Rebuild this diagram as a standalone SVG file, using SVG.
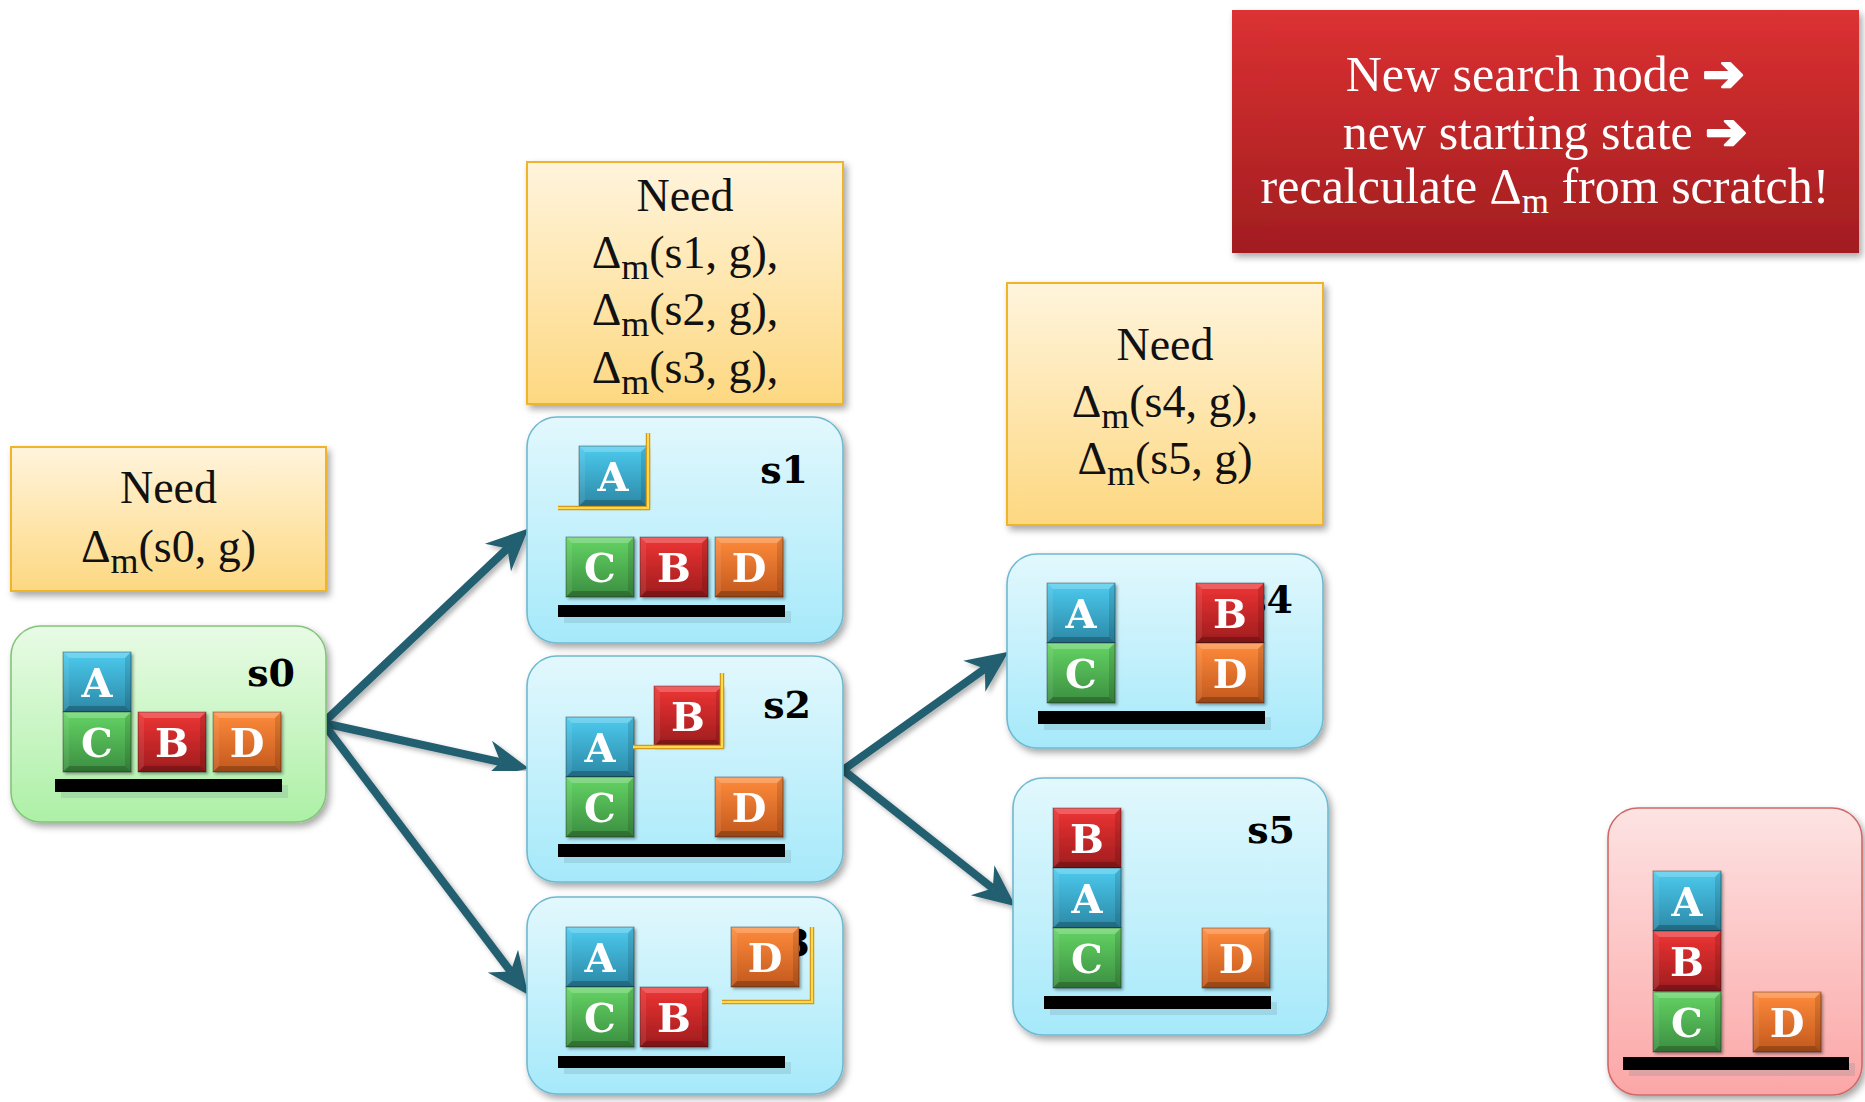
<svg xmlns="http://www.w3.org/2000/svg" xmlns:xlink="http://www.w3.org/1999/xlink" width="1865" height="1102" viewBox="0 0 1865 1102">
  <style>
    .note { stroke: #F0B42A; stroke-width: 2; fill: url(#gYellow); filter: url(#shadow); }
    .node { stroke-width: 1.6; filter: url(#shadow); }
    .green { fill: url(#gGreen); stroke: #84C47A; }
    .blue { fill: url(#gBlue); stroke: #6FB9D0; }
    .pink { fill: url(#gPink); stroke: #D06868; }
    .txt { font-family: "Liberation Serif", "DejaVu Serif", serif; font-size: 46px; fill: #111; text-anchor: middle; }
    .sub { font-size: 36px; }
    .lbl { font-family: "DejaVu Serif", "Liberation Serif", serif; font-weight: bold; font-size: 38px; fill: #000; text-anchor: end; }
    .letter { font-family: "DejaVu Serif", "Liberation Serif", serif; font-weight: bold; font-size: 40px; fill: #fff; text-anchor: middle; }
    .bar { fill: #000; }
    .barsh { fill: #5a7f8a; opacity: 0.18; }
    .bracket-o { fill: none; stroke: #D49A18; stroke-width: 4.5; }
    .bracket-i { fill: none; stroke: #FFD84E; stroke-width: 2; }
    .arrow { stroke: #245F6F; stroke-width: 8; fill: none; marker-end: url(#head); filter: url(#ashadow); }
    .wtxt { font-family: "Liberation Serif", "DejaVu Serif", serif; font-size: 50px; fill: #fff; text-anchor: middle; }
    .arr { font-family: "DejaVu Sans", sans-serif; font-weight: bold; stroke: #fff; stroke-width: 2.5; stroke-linejoin: round; }
  </style>
  <defs>
    <linearGradient id="gYellow" x1="0" y1="0" x2="0" y2="1">
      <stop offset="0" stop-color="#FFF4DC"/>
      <stop offset="1" stop-color="#FDD881"/>
    </linearGradient>
    <linearGradient id="gGreen" x1="0" y1="0" x2="0" y2="1">
      <stop offset="0" stop-color="#E8FBE5"/>
      <stop offset="1" stop-color="#ADF0A6"/>
    </linearGradient>
    <linearGradient id="gBlue" x1="0" y1="0" x2="0" y2="1">
      <stop offset="0" stop-color="#E2F8FD"/>
      <stop offset="1" stop-color="#A6E9FA"/>
    </linearGradient>
    <linearGradient id="gPink" x1="0" y1="0" x2="0" y2="1">
      <stop offset="0" stop-color="#FDE3E3"/>
      <stop offset="1" stop-color="#FCA6A6"/>
    </linearGradient>
    <linearGradient id="gRed" x1="0" y1="0" x2="0" y2="1">
      <stop offset="0" stop-color="#DC3132"/>
      <stop offset="1" stop-color="#A11D20"/>
    </linearGradient>
    <!-- block faces -->
    <linearGradient id="fA" x1="0" y1="0" x2="0" y2="1">
      <stop offset="0" stop-color="#4CCBEF"/>
      <stop offset="1" stop-color="#2C88A6"/>
    </linearGradient>
    <linearGradient id="fB" x1="0" y1="0" x2="0" y2="1">
      <stop offset="0" stop-color="#EF3434"/>
      <stop offset="1" stop-color="#9E1C1E"/>
    </linearGradient>
    <linearGradient id="fC" x1="0" y1="0" x2="0" y2="1">
      <stop offset="0" stop-color="#64D464"/>
      <stop offset="1" stop-color="#3B8E40"/>
    </linearGradient>
    <linearGradient id="fD" x1="0" y1="0" x2="0" y2="1">
      <stop offset="0" stop-color="#FF8B3B"/>
      <stop offset="1" stop-color="#C2581D"/>
    </linearGradient>
    <filter id="shadow" x="-10%" y="-10%" width="125%" height="130%">
      <feDropShadow dx="3" dy="4" stdDeviation="3.5" flood-color="#000" flood-opacity="0.35"/>
    </filter>
    <filter id="bshadow" x="-10%" y="-10%" width="130%" height="130%">
      <feDropShadow dx="2" dy="2" stdDeviation="1.5" flood-color="#000" flood-opacity="0.35"/>
    </filter>
    <filter id="ashadow" x="-20%" y="-20%" width="140%" height="140%">
      <feDropShadow dx="3" dy="3" stdDeviation="2.5" flood-color="#000" flood-opacity="0.3"/>
    </filter>
    <marker id="head" viewBox="0 -20 44 40" markerWidth="44" markerHeight="40" refX="13" refY="0" orient="auto" markerUnits="userSpaceOnUse" overflow="visible">
      <path d="M42,0 L0,-19 L13,0 L0,19 Z" fill="#245F6F"/>
    </marker>
    <!-- bevelled edges shared by every block -->
    <g id="bevel">
      <polygon points="0,0 68,0 62,6 6,6" fill="#fff" opacity="0.22"/>
      <polygon points="0,0 6,6 6,54 0,60" fill="#fff" opacity="0.08"/>
      <polygon points="68,0 68,60 62,54 62,6" fill="#000" opacity="0.12"/>
      <polygon points="0,60 68,60 62,54 6,54" fill="#000" opacity="0.22"/>
      <rect x="0" y="0" width="68" height="60" fill="none" stroke="#000" stroke-opacity="0.35" stroke-width="1"/>
    </g>
    <g id="blkA">
      <rect width="68" height="60" fill="url(#fA)"/>
      <use href="#bevel"/>
      <text class="letter" x="34" y="45">A</text>
    </g>
    <g id="blkB">
      <rect width="68" height="60" fill="url(#fB)"/>
      <use href="#bevel"/>
      <text class="letter" x="34" y="45">B</text>
    </g>
    <g id="blkC">
      <rect width="68" height="60" fill="url(#fC)"/>
      <use href="#bevel"/>
      <text class="letter" x="34" y="45">C</text>
    </g>
    <g id="blkD">
      <rect width="68" height="60" fill="url(#fD)"/>
      <use href="#bevel"/>
      <text class="letter" x="34" y="45">D</text>
    </g>
  </defs>

  <rect width="1865" height="1102" fill="#fff"/>

  <!-- requirement notes -->
  <g id="note-s0">
    <rect class="note" x="11" y="447" width="315" height="144"/>
    <text class="txt" x="168.5" y="503">Need</text>
    <text class="txt" x="168.5" y="562">Δ<tspan class="sub" dy="11">m</tspan><tspan dy="-11">(s0, g)</tspan></text>
  </g>
  <g id="note-s123">
    <rect class="note" x="527" y="162" width="316" height="242"/>
    <text class="txt" x="685" y="211">Need</text>
    <text class="txt" x="685" y="268">Δ<tspan class="sub" dy="11">m</tspan><tspan dy="-11">(s1, g),</tspan></text>
    <text class="txt" x="685" y="325">Δ<tspan class="sub" dy="11">m</tspan><tspan dy="-11">(s2, g),</tspan></text>
    <text class="txt" x="685" y="383">Δ<tspan class="sub" dy="11">m</tspan><tspan dy="-11">(s3, g),</tspan></text>
  </g>
  <g id="note-s45">
    <rect class="note" x="1007" y="283" width="316" height="242"/>
    <text class="txt" x="1165" y="360">Need</text>
    <text class="txt" x="1165" y="417">Δ<tspan class="sub" dy="11">m</tspan><tspan dy="-11">(s4, g),</tspan></text>
    <text class="txt" x="1165" y="474">Δ<tspan class="sub" dy="11">m</tspan><tspan dy="-11">(s5, g)</tspan></text>
  </g>

  <!-- callout -->
  <g id="callout">
    <rect x="1232" y="10" width="627" height="243" fill="url(#gRed)" filter="url(#shadow)"/>
    <text class="wtxt" x="1545" y="91">New search node <tspan class="arr">➔</tspan></text>
    <text class="wtxt" x="1545" y="149">new starting state <tspan class="arr">➔</tspan></text>
    <text class="wtxt" x="1545" y="203">recalculate Δ<tspan font-size="35" dy="10">m</tspan><tspan dy="-10"> from scratch!</tspan></text>
  </g>

  <!-- connectors -->
  <g id="connectors">
    <line class="arrow" x1="323" y1="723" x2="507.4" y2="548.5"/>
    <line class="arrow" x1="323" y1="723" x2="500.6" y2="762.2"/>
    <line class="arrow" x1="323" y1="723" x2="510.7" y2="971.5"/>
    <line class="arrow" x1="843" y1="770" x2="984.9" y2="668.7"/>
    <line class="arrow" x1="843" y1="770" x2="992.8" y2="888.3"/>
  </g>

  <!-- state s0 -->
  <g id="node-s0">
    <rect class="node green" x="11" y="626" width="315" height="196" rx="30"/>
    <text class="lbl" x="295" y="686">s0</text>
    <rect class="barsh" x="61" y="785" width="227" height="13"/>
    <rect class="bar" x="55" y="779" width="227" height="13"/>
    <use href="#blkA" x="63" y="652" filter="url(#bshadow)"/>
    <use href="#blkC" x="63" y="712" filter="url(#bshadow)"/>
    <use href="#blkB" x="138" y="712" filter="url(#bshadow)"/>
    <use href="#blkD" x="213" y="712" filter="url(#bshadow)"/>
  </g>

  <!-- state s1 -->
  <g id="node-s1">
    <rect class="node blue" x="527" y="417" width="316" height="226" rx="30"/>
    <text class="lbl" x="808" y="483">s1</text>
    <rect class="barsh" x="564" y="611" width="227" height="12"/>
    <rect class="bar" x="558" y="605" width="227" height="12"/>
    <use href="#blkA" x="579" y="446" filter="url(#bshadow)"/>
    <polyline class="bracket-o" points="558,508 648,508 648,433"/>
    <polyline class="bracket-i" points="558,508 648,508 648,433"/>
    <use href="#blkC" x="566" y="537" filter="url(#bshadow)"/>
    <use href="#blkB" x="640" y="537" filter="url(#bshadow)"/>
    <use href="#blkD" x="715" y="537" filter="url(#bshadow)"/>
  </g>

  <!-- state s2 -->
  <g id="node-s2">
    <rect class="node blue" x="527" y="656" width="316" height="226" rx="30"/>
    <text class="lbl" x="811" y="718">s2</text>
    <rect class="barsh" x="564" y="850" width="227" height="13"/>
    <rect class="bar" x="558" y="844" width="227" height="13"/>
    <use href="#blkA" x="566" y="717" filter="url(#bshadow)"/>
    <use href="#blkC" x="566" y="777" filter="url(#bshadow)"/>
    <use href="#blkB" x="654" y="686" filter="url(#bshadow)"/>
    <polyline class="bracket-o" points="633,747 722,747 722,673"/>
    <polyline class="bracket-i" points="633,747 722,747 722,673"/>
    <use href="#blkD" x="715" y="777" filter="url(#bshadow)"/>
  </g>

  <!-- state s3 -->
  <g id="node-s3">
    <rect class="node blue" x="527" y="897" width="316" height="197" rx="30"/>
    <text class="lbl" x="810" y="956">s3</text>
    <rect class="barsh" x="564" y="1062" width="227" height="12"/>
    <rect class="bar" x="558" y="1056" width="227" height="12"/>
    <use href="#blkA" x="566" y="927" filter="url(#bshadow)"/>
    <use href="#blkC" x="566" y="987" filter="url(#bshadow)"/>
    <use href="#blkB" x="640" y="987" filter="url(#bshadow)"/>
    <use href="#blkD" x="731" y="927" filter="url(#bshadow)"/>
    <polyline class="bracket-o" points="722,1002 812,1002 812,927"/>
    <polyline class="bracket-i" points="722,1002 812,1002 812,927"/>
  </g>

  <!-- state s4 -->
  <g id="node-s4">
    <rect class="node blue" x="1007" y="554" width="316" height="194" rx="30"/>
    <text class="lbl" x="1293" y="613">s4</text>
    <rect class="barsh" x="1044" y="717" width="227" height="13"/>
    <rect class="bar" x="1038" y="711" width="227" height="13"/>
    <use href="#blkA" x="1047" y="583" filter="url(#bshadow)"/>
    <use href="#blkC" x="1047" y="643" filter="url(#bshadow)"/>
    <use href="#blkB" x="1196" y="583" filter="url(#bshadow)"/>
    <use href="#blkD" x="1196" y="643" filter="url(#bshadow)"/>
  </g>

  <!-- state s5 -->
  <g id="node-s5">
    <rect class="node blue" x="1013" y="778" width="315" height="257" rx="30"/>
    <text class="lbl" x="1295" y="843">s5</text>
    <rect class="barsh" x="1050" y="1002" width="227" height="13"/>
    <rect class="bar" x="1044" y="996" width="227" height="13"/>
    <use href="#blkB" x="1053" y="808" filter="url(#bshadow)"/>
    <use href="#blkA" x="1053" y="868" filter="url(#bshadow)"/>
    <use href="#blkC" x="1053" y="928" filter="url(#bshadow)"/>
    <use href="#blkD" x="1202" y="928" filter="url(#bshadow)"/>
  </g>

  <!-- goal state -->
  <g id="node-goal">
    <rect class="node pink" x="1608" y="808" width="254" height="287" rx="30"/>
    <rect class="barsh" x="1629" y="1063" width="226" height="13"/>
    <rect class="bar" x="1623" y="1057" width="226" height="13"/>
    <use href="#blkA" x="1653" y="871" filter="url(#bshadow)"/>
    <use href="#blkB" x="1653" y="931" filter="url(#bshadow)"/>
    <use href="#blkC" x="1653" y="992" filter="url(#bshadow)"/>
    <use href="#blkD" x="1753" y="992" filter="url(#bshadow)"/>
  </g>
</svg>
